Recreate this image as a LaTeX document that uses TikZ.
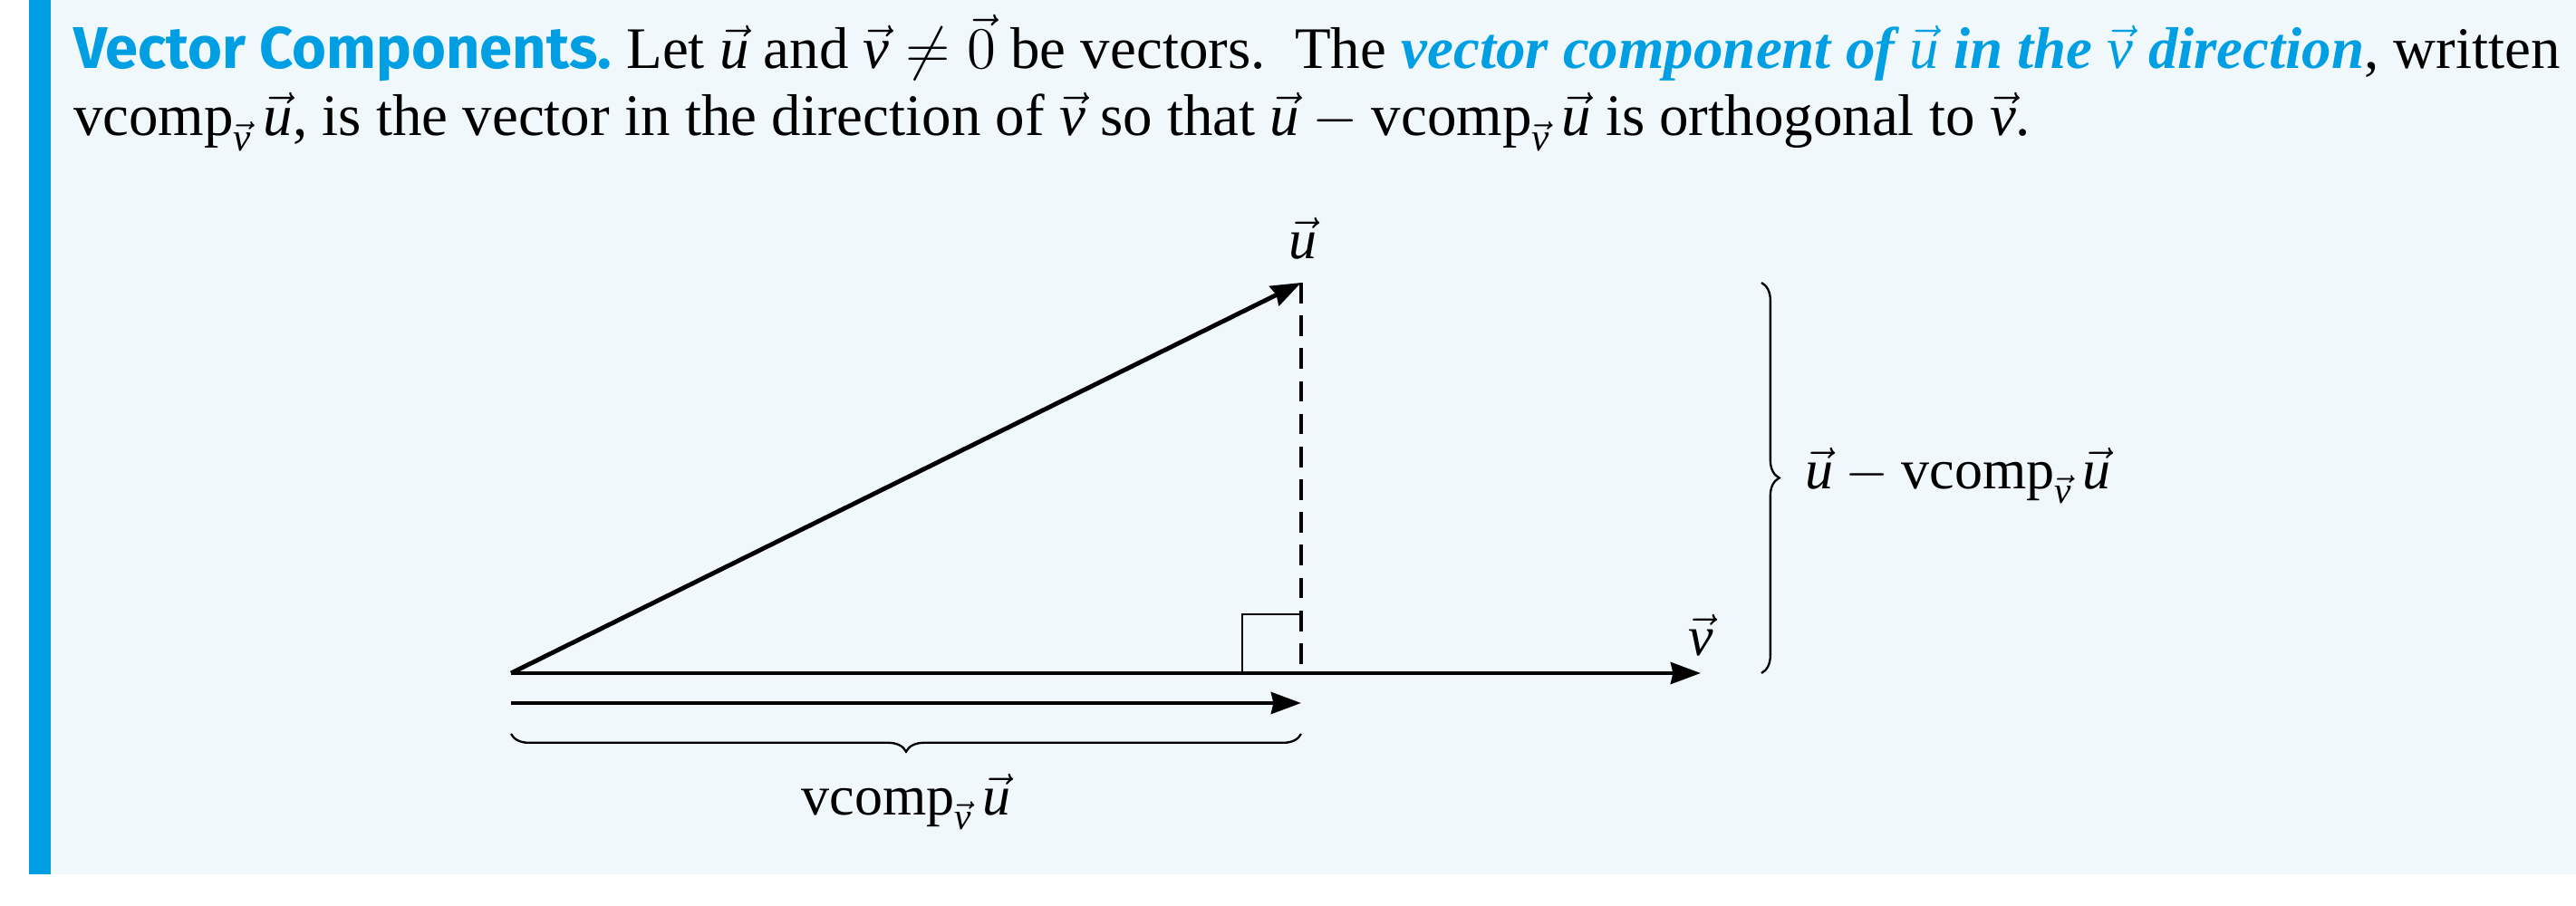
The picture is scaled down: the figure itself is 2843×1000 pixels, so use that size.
\documentclass[tikz,border=0pt]{standalone}
\usepackage{amsmath}
\usepackage{graphicx}
\usepackage{fontspec}
\setmainfont{Liberation Serif}
\newfontfamily\titlefont{Fira Sans}
\usetikzlibrary{arrows.meta,decorations.pathreplacing}
\definecolor{accent}{RGB}{0,159,227}
\definecolor{panel}{RGB}{240,248,252}
\newcommand{\vcomp}{\operatorname{vcomp}}
\newcommand{\vu}{\vec{\mathit{u}}}
\newcommand{\vv}{\vec{\mathit{v}}}
\newsavebox\lineA
\newsavebox\lineB
\begin{document}
\sbox\lineA{\fontsize{12}{14.4}\selectfont{\titlefont\bfseries\color{accent}Vector Components.}\ Let $\vu$ and $\vv\neq\vec{0}$ be vectors.\ \ The {\color{accent}\bfseries\itshape vector component of $\vu$ in the $\vv$ direction}, written}%
\sbox\lineB{\fontsize{12}{14.4}\selectfont$\vcomp_{\vv}\vu$, is the vector in the direction of $\vv$ so that $\vu-\vcomp_{\vv}\vu$ is orthogonal to $\vv$.}%
\pgfmathsetmacro\fitscale{531pt/\wd\lineA}%
\begin{tikzpicture}[x=0.19346pt,y=-0.19346pt,
  every node/.style={inner sep=0pt,font=\fontsize{12}{14.4}\selectfont},
  vec/.style={line width=0.95pt,-{Stealth[length=6.4pt,width=4.6pt,inset=0.5pt]}},
  perp/.style={line width=0.95pt,dash pattern=on 4.4pt off 2.6pt},
  rightmark/.style={line width=0.45pt},
  bracestyle/.style={line width=0.45pt,decorate,decoration={brace,amplitude=3.8pt}}]
\useasboundingbox (0,0) rectangle (2843,1000);
\fill[panel] (56,0) rectangle (2843,965);
\fill[accent] (32,0) rectangle (56,965);
\node[anchor=base west] (lineone) at (80,76) {\scalebox{\fitscale}{\usebox\lineA}};
\node[anchor=base west] (linetwo) at (80,150) {\scalebox{\fitscale}{\usebox\lineB}};
% diagram
\coordinate (O) at (564,743);
\coordinate (U) at (1436,312);
\coordinate (P) at (1436,743);
\coordinate (V) at (1877,743);
\coordinate (A0) at (564,776);
\coordinate (A1) at (1436,776);
\coordinate (B0) at (564,810);
\coordinate (B1) at (1436,810);
\coordinate (R0) at (1944,312);
\coordinate (R1) at (1944,743);
\draw[vec] (O) -- (V);
\draw[vec] (O) -- (U);
\draw[perp] (U) -- (P);
\draw[rightmark] ([xshift=-12.6pt]P) |- ([yshift=12.6pt]P);
\draw[vec] (A0) -- (A1);
\draw[bracestyle] (B1) -- (B0);
\draw[bracestyle] (R0) -- (R1);
\node[anchor=base] (ulab) at (1438,286) {$\vu$};
\node[anchor=base] (vlab) at (1877,724) {$\vv$};
\node[anchor=base] (clab) at (1000,900) {$\vcomp_{\vv}\vu$};
\node[anchor=base west] (dlab) at (1991,540) {$\vu-\vcomp_{\vv}\vu$};
\end{tikzpicture}
\end{document}
